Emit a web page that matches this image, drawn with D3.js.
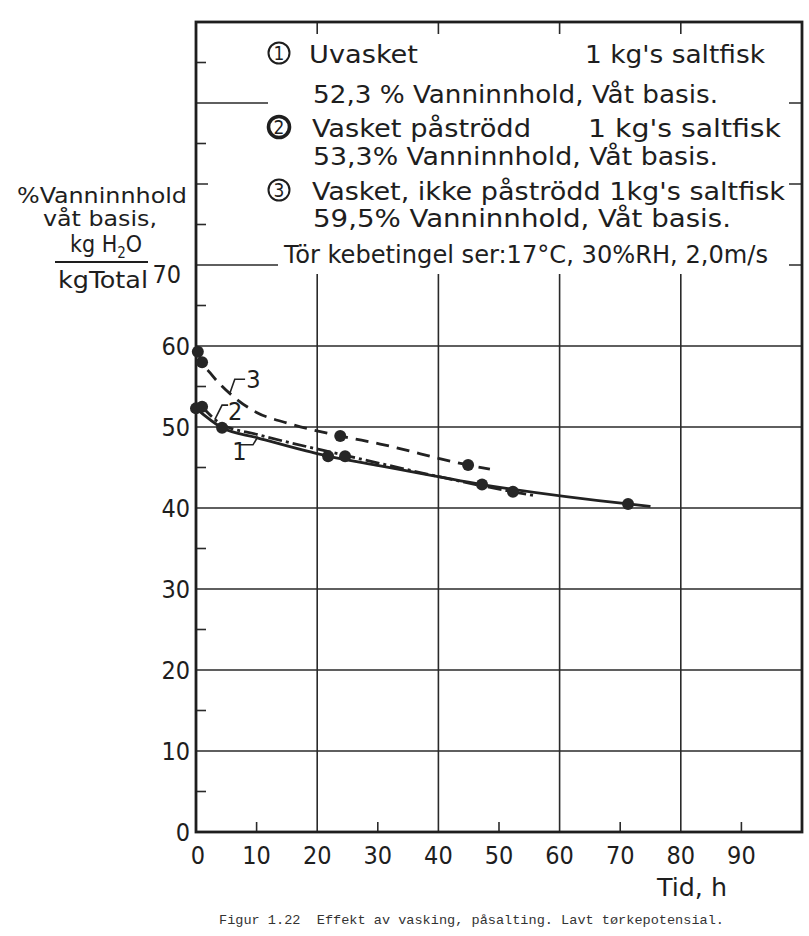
<!DOCTYPE html>
<html lang="no">
<head>
<meta charset="UTF-8" />
<script src="https://d3js.org/d3.v7.min.js"></script>
<title>Figur 1.22</title>
<style>
  body { margin: 0; background: #ffffff; }
  .frame { fill: none; stroke: #1e1e1e; stroke-width: 2.8; }
  .grid { stroke: #2a2a2a; stroke-width: 1.6; }
  .tick { stroke: #2a2a2a; stroke-width: 1.6; }
  .num { font-family: "Liberation Sans Narrow", "DejaVu Sans Condensed", sans-serif; font-size: 25px; fill: #1e1e1e; }
  .lab { font-family: "DejaVu Sans Condensed", "DejaVu Sans", sans-serif; fill: #1e1e1e; }
  .curve { fill: none; stroke: #222; stroke-width: 2.8; }
  .leader { fill: none; stroke: #222; stroke-width: 1.6; }
  .cap { font-family: "Liberation Mono", "DejaVu Sans Mono", monospace; font-size: 13.6px; fill: #333; white-space: pre; }
</style>
</head>
<body>
<script>
// values (x = hours, y = % water, wet basis)
var xTicks = [0, 10, 20, 30, 40, 50, 60, 70, 80, 90];
var yTicks = [0, 10, 20, 30, 40, 50, 60, 70];
var xGrid = [20, 40, 60, 80];
var yGrid = [10, 20, 30, 40, 50, 60, 70, 80, 90];

// 1: Uvasket (solid)
var line1 = [[0, 52.3], [4.3, 49.9], [10, 48.7], [21.8, 46.4], [30.4, 45.2], [47.2, 42.9], [71.3, 40.5], [75, 40.2]];
var pts1 = [[0, 52.3], [4.3, 49.9], [21.8, 46.4], [47.2, 42.9], [71.3, 40.5]];
// 2: Vasket påströdd (dash-dot)
var line2 = [[1, 52.5], [4.3, 50.3], [10, 49.1], [24.6, 46.5], [52.3, 42.0], [56, 41.5]];
var pts2 = [[1, 52.5], [24.6, 46.4], [52.3, 42.0]];
// 3: Vasket, ikke påströdd (dashed)
var line3 = [[0.3, 59.3], [1, 58], [2.3, 56.7], [6.1, 53.8], [10, 51.8], [15, 50.5], [23.8, 48.9], [30.4, 47.9], [44.9, 45.3], [48.5, 44.8]];
var pts3 = [[0.3, 59.3], [1, 58.0], [23.8, 48.9], [44.9, 45.3]];

var legendRows = [
  ["1", "Uvasket", "1 kg's saltfisk"],
  ["", "52,3 % Vanninnhold, Våt basis.", ""],
  ["2", "Vasket påströdd", "1 kg's saltfisk"],
  ["", "53,3% Vanninnhold, Våt basis.", ""],
  ["3", "Vasket, ikke påströdd 1kg's saltfisk", ""],
  ["", "59,5% Vanninnhold, Våt basis.", ""],
  ["", "Tör kebetingel ser:17°C, 30%RH, 2,0m/s", ""]
];
var caption = "Figur 1.22  Effekt av vasking, påsalting. Lavt tørkepotensial.";

var W = 809, H = 936;
var x = d3.scaleLinear().domain([0, 100]).range([196, 802]);
var y = d3.scaleLinear().domain([0, 100]).range([832, 22]);

var svg = d3.select("body").append("svg").attr("width", W).attr("height", H);

// grid
svg.selectAll(".hg").data(yGrid).enter().append("line").attr("class", "grid")
  .attr("x1", x(0)).attr("x2", x(100)).attr("y1", d => y(d)).attr("y2", d => y(d));
svg.selectAll(".vg").data(xGrid).enter().append("line").attr("class", "grid")
  .attr("y1", y(0)).attr("y2", y(100)).attr("x1", d => x(d)).attr("x2", d => x(d));

// minor ticks
svg.selectAll(".lt").data(d3.range(5, 100, 10)).enter().append("line").attr("class", "tick")
  .attr("x1", x(0)).attr("x2", x(0) + 10).attr("y1", d => y(d)).attr("y2", d => y(d));
svg.selectAll(".bt").data([10, 30, 50, 70, 90]).enter().append("line").attr("class", "tick")
  .attr("x1", d => x(d)).attr("x2", d => x(d)).attr("y1", y(0)).attr("y2", y(0) - 10);

// legend mask (white paste-over)
svg.append("path").attr("fill", "#fff")
  .attr("d", "M268,34 L789,34 L789,274 L278,274 L278,215 L208,215 L208,170 L268,170 Z");

// frame
svg.append("rect").attr("class", "frame")
  .attr("x", x(0)).attr("y", y(100)).attr("width", x(100) - x(0)).attr("height", y(0) - y(100));

// axis labels
svg.selectAll(".yl").data(yTicks).enter().append("text").attr("class", "num")
  .attr("text-anchor", "end")
  .attr("x", d => d === 70 ? 181 : 190)
  .attr("y", d => d === 70 ? y(d) + 18 : y(d) + 9)
  .text(d => d);
svg.selectAll(".xl").data(xTicks).enter().append("text").attr("class", "num")
  .attr("text-anchor", "middle")
  .attr("x", d => x(d) + (d === 0 ? 2 : 0)).attr("y", 864)
  .text(d => d);
svg.append("text").attr("class", "lab").attr("font-size", 24)
  .attr("x", 657).attr("y", 896).attr("textLength", 70).attr("lengthAdjust", "spacingAndGlyphs")
  .text("Tid, h");

// y title
var yt = svg.append("g").attr("class", "lab");
yt.append("text").attr("font-size", 21).attr("x", 17).attr("y", 203)
  .attr("textLength", 170).attr("lengthAdjust", "spacingAndGlyphs").text("%Vanninnhold");
yt.append("text").attr("font-size", 21).attr("x", 43).attr("y", 226)
  .attr("textLength", 114).attr("lengthAdjust", "spacingAndGlyphs").text("våt basis,");
var kg = yt.append("text").attr("font-size", 23).attr("x", 70).attr("y", 252);
kg.append("tspan").text("kg H");
kg.append("tspan").attr("font-size", 15).attr("dy", 6).text("2");
kg.append("tspan").attr("dy", -6).text("O");
yt.append("line").attr("x1", 55).attr("x2", 148).attr("y1", 262).attr("y2", 262)
  .attr("stroke", "#1e1e1e").attr("stroke-width", 1.8);
yt.append("text").attr("font-size", 23).attr("x", 58).attr("y", 288)
  .attr("textLength", 90).attr("lengthAdjust", "spacingAndGlyphs").text("kgTotal");

// legend
var rowBase = [63, 103, 137, 165, 200, 227, 263];
var lg = svg.append("g").attr("class", "lab").attr("font-size", 25);
legendRows.forEach(function (r, i) {
  var b = rowBase[i];
  if (r[0]) {
    lg.append("circle").attr("cx", 279).attr("cy", b - 10).attr("r", 10.5)
      .attr("fill", "none").attr("stroke", "#1e1e1e").attr("stroke-width", r[0] === "2" ? 3.6 : 2);
    lg.append("text").attr("font-size", 19).attr("text-anchor", "middle")
      .attr("x", 279).attr("y", b - 3).text(r[0]);
  }
  var x0 = r[0] ? 309 : (i === 6 ? 284 : 313);
  var w;
  if (i === 0) w = 109; else if (i === 2) w = 219; else if (i === 4) w = 473;
  else if (i === 6) w = 484; else if (i === 5) w = 418; else w = 405;
  lg.append("text").attr("x", i === 2 || i === 4 ? 312 : x0).attr("y", b)
    .attr("textLength", w).attr("lengthAdjust", "spacingAndGlyphs").text(r[1]);
  if (r[2]) {
    lg.append("text").attr("x", i === 0 ? 585 : 588).attr("y", b)
      .attr("textLength", i === 0 ? 180 : 193).attr("lengthAdjust", "spacingAndGlyphs").text(r[2]);
  }
});

// curves
var gen = d3.line().x(d => x(d[0])).y(d => y(d[1])).curve(d3.curveMonotoneX);
svg.append("path").attr("class", "curve").attr("d", gen(line1));
svg.append("path").attr("class", "curve").attr("stroke-dasharray", "14,4,3,4").attr("d", gen(line2));
svg.append("path").attr("class", "curve").attr("stroke-dasharray", "13,8").attr("d", gen(line3));

[pts1, pts2, pts3].forEach(function (p) {
  svg.append("g").selectAll("circle").data(p).enter().append("circle")
    .attr("cx", d => x(d[0])).attr("cy", d => y(d[1])).attr("r", 6).attr("fill", "#262626");
});

// curve labels with leaders (in data units)
var lead = d3.line().x(d => x(d[0])).y(d => y(d[1]));
var tags = [
  { t: "1", at: [6.0, 45.9], path: [[7.1, 47.8], [9.4, 47.8], [10.2, 48.8]] },
  { t: "2", at: [5.3, 50.9], path: [[5.3, 52.7], [4.3, 52.7], [3.1, 50.9]] },
  { t: "3", at: [8.3, 54.8], path: [[8.1, 55.9], [6.4, 55.9], [5.6, 54.2]] }
];
tags.forEach(function (g) {
  svg.append("path").attr("class", "leader").attr("d", lead(g.path));
  svg.append("text").attr("class", "lab").attr("font-size", 25)
    .attr("x", x(g.at[0])).attr("y", y(g.at[1])).text(g.t);
});

// caption
svg.append("text").attr("class", "cap").attr("xml:space", "preserve").attr("x", 219).attr("y", 924)
  .attr("textLength", 505).attr("lengthAdjust", "spacingAndGlyphs").text(caption);
</script>
</body>
</html>
